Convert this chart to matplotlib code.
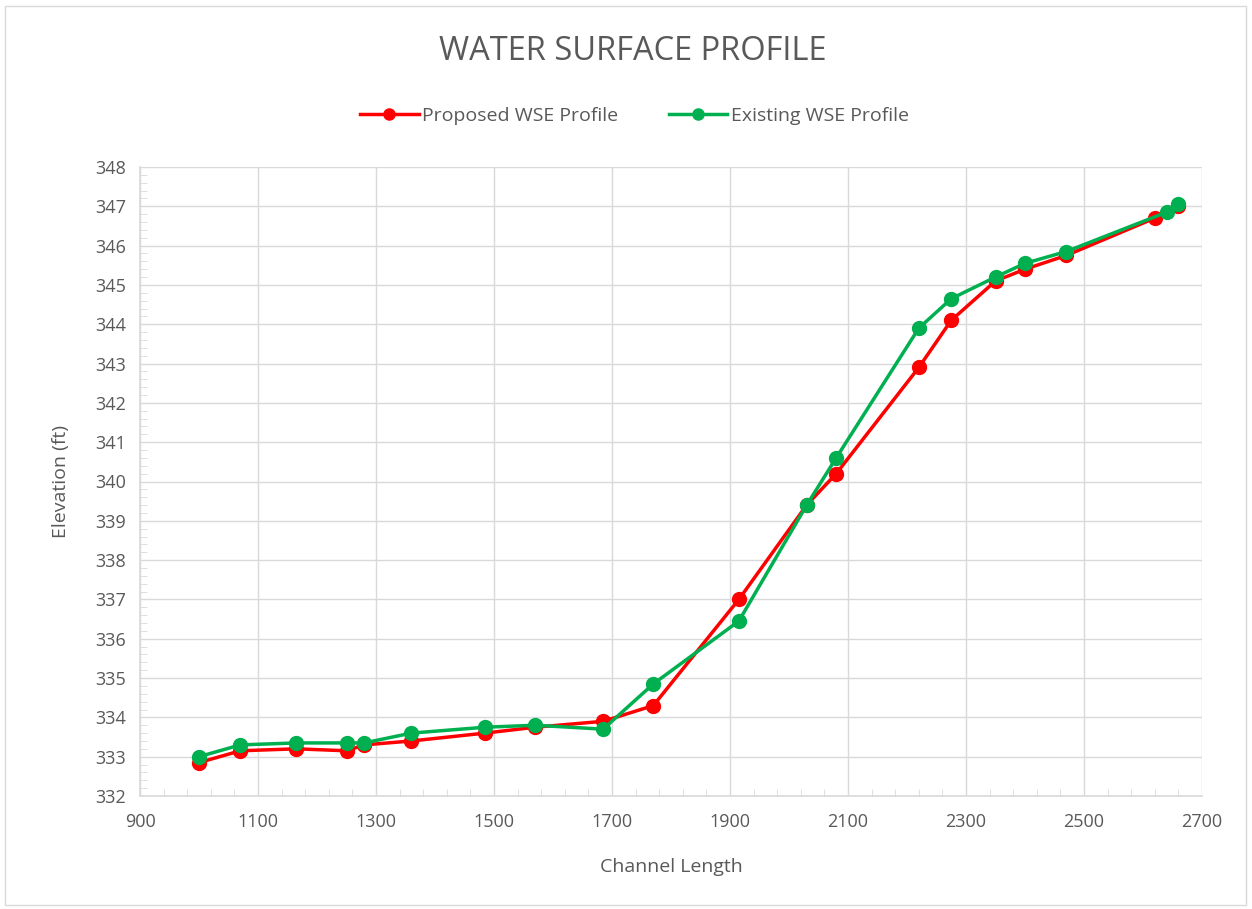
import matplotlib
matplotlib.use("Agg")
import matplotlib.pyplot as plt
from matplotlib.ticker import MultipleLocator
from matplotlib.patches import Rectangle

# channel stations and water surface elevations
station = [1000, 1070, 1165, 1250, 1280, 1360, 1485, 1570, 1685, 1770,
           1915, 2030, 2080, 2220, 2275, 2350, 2400, 2470, 2620, 2660]
proposed = [332.85, 333.15, 333.2, 333.15, 333.3, 333.4, 333.6, 333.75, 333.9, 334.3,
            337.0, 339.4, 340.2, 342.9, 344.1, 345.1, 345.4, 345.75, 346.7, 347.0]
station_ex = [1000, 1070, 1165, 1250, 1280, 1360, 1485, 1570, 1685, 1770,
              1915, 2030, 2080, 2220, 2275, 2350, 2400, 2470, 2640, 2660]
existing = [333.0, 333.3, 333.35, 333.35, 333.35, 333.6, 333.75, 333.8, 333.7, 334.85,
            336.45, 339.4, 340.6, 343.9, 344.65, 345.2, 345.55, 345.85, 346.85, 347.05]

x_ticks = list(range(900, 2701, 200))

plt.rcParams['font.family'] = ['Open Sans', 'DejaVu Sans']
txt = '#595959'
grid_c = '#d9d9d9'

W, H = 1252, 909
fig = plt.figure(figsize=(W / 100, H / 100), dpi=100)
ax = fig.add_axes([140 / W, 1 - 796 / H, (1202 - 140) / W, (796 - 167) / H])

ax.plot(station, proposed, color='#ff0000', lw=2.5, marker='o', ms=10,
        label='Proposed WSE Profile', zorder=3)
ax.plot(station_ex, existing, color='#00b050', lw=2.5, marker='o', ms=10,
        label='Existing WSE Profile', zorder=4)

ax.set_xlim(900, 2700)
ax.set_ylim(332, 348)
ax.set_xticks(x_ticks)
ax.set_xticks(list(range(900, 2701, 40)), minor=True)
ax.yaxis.set_major_locator(MultipleLocator(1))
ax.yaxis.set_minor_locator(MultipleLocator(0.2))
ax.grid(True, which='major', color=grid_c, lw=1)
ax.set_axisbelow(True)

for s in ['top', 'right']:
    ax.spines[s].set_visible(False)
for s in ['left', 'bottom']:
    ax.spines[s].set_color(grid_c)
    ax.spines[s].set_linewidth(1.2)

ax.tick_params(which='major', length=0, labelsize=13, labelcolor=txt)
ax.tick_params(axis='x', which='major', pad=12)
ax.tick_params(axis='y', which='major', pad=10)
ax.tick_params(which='minor', direction='in', length=5, color=grid_c)

ax.set_xlabel('Channel Length', fontsize=14, color=txt, labelpad=20)
ax.set_ylabel('Elevation (ft)', fontsize=14, color=txt, labelpad=18)

fig.text(0.505, 1 - 52 / H, 'WATER SURFACE PROFILE', ha='center', va='center',
         fontsize=23.5, color=txt)

fig.legend(loc='center', bbox_to_anchor=(0.507, 1 - 116 / H), ncol=2, frameon=False,
           fontsize=14, labelcolor=txt, handlelength=3, columnspacing=2.6,
           handletextpad=0.2, markerscale=0.8)

fig.patches.append(Rectangle((5 / W, 4 / H), 1 - 11 / W, 1 - 10 / H,
                             transform=fig.transFigure, fill=False,
                             edgecolor='#d9d9d9', lw=1))

fig.savefig('out.png', dpi=100, facecolor='white')
